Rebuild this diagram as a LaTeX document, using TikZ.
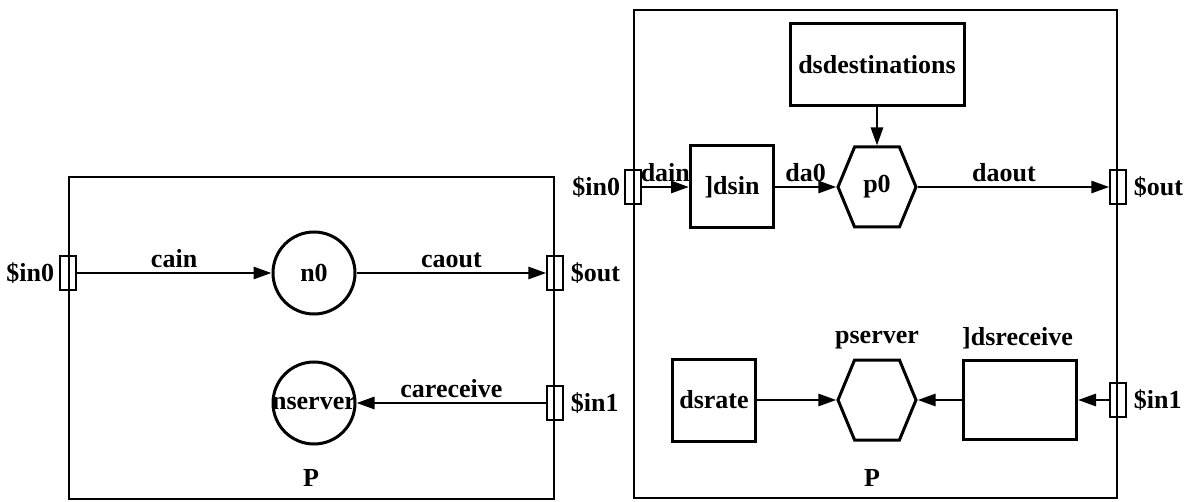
\documentclass[tikz,border=0pt]{standalone}
\usepackage{fontspec}
\setmainfont{Liberation Serif}
\usetikzlibrary{positioning, arrows.meta, shapes.symbols}
\tikzset{
  >={Triangle[length=18pt, width=12pt]},
  every node/.style={font=\fontsize{26}{30}\selectfont\bfseries},
  frame/.style={
    rectangle, draw, line width=2.6pt, inner sep=0pt
  },
  actor/.style={
    rectangle, draw, line width=3pt, inner sep=0pt,
    minimum width=83pt, minimum height=82pt
  },
  procnode/.style={
    circle, draw, line width=3pt, inner sep=0pt, minimum size=82pt
  },
  hexnode/.style={
    signal, signal to=west and east, signal pointer angle=135,
    draw, line width=3pt, inner sep=0pt,
    minimum width=78pt, minimum height=80pt
  },
  port/.style={
    rectangle, draw, line width=2pt, inner sep=0pt,
    minimum width=16pt, minimum height=34pt
  },
  chan/.style={->, line width=2.8pt},
  chanlabel/.style={above, inner sep=4pt}
}

\begin{document}
\begin{tikzpicture}[x=1pt, y=-1pt]
\useasboundingbox (0,0) rectangle (1196,502);

% Left process P
\node[frame, minimum width=485pt, minimum height=322pt] (leftP) at (311.5,338) {};
\node (leftname) at (311,478) {P};

\node[procnode] (n0) at (314,273) {n0};
\node[procnode] (nserver) at (314,403) {\makebox[0pt]{nserver}};

\node[port] (lin0) at (leftP.west |- n0) {};
\node[port] (lout) at (leftP.east |- n0) {};
\node[port] (lin1) at (leftP.east |- nserver) {};
\node[left=1pt of lin0] (lin0name) {\$in0};
\node[right=3pt of lout] (loutname) {\$out};
\node[right=3pt of lin1] (lin1name) {\$in1};

\draw[chan] (lin0.east) -- node[chanlabel] {cain} (n0.west);
\draw[chan] (n0.east) -- node[chanlabel] {caout} (lout.west);
\draw[chan] (lin1.west) -- node[chanlabel] {careceive} (nserver.east);

% Right process P
\node[frame, minimum width=483pt, minimum height=488pt] (rightP) at (875.5,254) {};
\node (rightname) at (872,478) {P};

\node[hexnode] (p0) at (877,187) {p0};
\node[actor] (dsin) at (732,187) {]dsin};
\node[actor, minimum width=174pt] (dsdest) at (877,65) {dsdestinations};

\node[hexnode] (pserver) at (877,400) {};
\node[above=6pt of pserver] (pservername) {pserver};
\node[actor] (dsrate) at (714,400) {dsrate};
\node[actor, minimum width=113pt, minimum height=79pt] (dsreceive) at (1020,400) {};
\node[anchor=south west, inner sep=0pt, yshift=10pt] (dsreceivename) at (dsreceive.north west) {]dsreceive};

\node[port] (rin0) at (rightP.west |- p0) {};
\node[port] (rout) at (rightP.east |- p0) {};
\node[port] (rin1) at (rightP.east |- pserver) {};
\node[left=0pt of rin0] (rin0name) {\$in0};
\node[right=3pt of rout] (routname) {\$out};
\node[right=3pt of rin1] (rin1name) {\$in1};

\draw[chan] (rin0.east) -- node[chanlabel] {dain} (dsin.west);
\draw[chan] (dsin.east) -- node[chanlabel] {da0} (p0.west);
\draw[chan] (p0.east) -- node[chanlabel, pos=0.45] {daout} (rout.west);
\draw[chan] (dsdest.south) -- (p0.north);
\draw[chan] (rin1.west) -- (dsreceive.east);
\draw[chan] (dsreceive.west) -- (pserver.east);
\draw[chan] (dsrate.east) -- (pserver.west);

\end{tikzpicture}
\end{document}
